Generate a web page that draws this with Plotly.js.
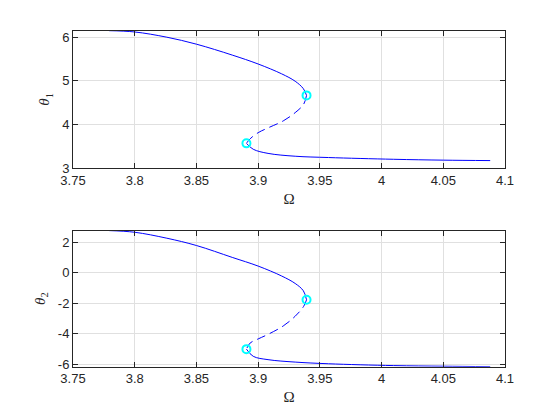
<!DOCTYPE html>
<html><head><meta charset="utf-8">
<script src="https://cdn.plot.ly/plotly-3.0.1.min.js"></script>
<style>html,body{margin:0;padding:0;background:#fff}#chart{width:560px;height:420px}</style>
</head><body><div id="chart"></div>
<script>
// Stable upper branch
const omegaUpper  = [3.7792, 3.8, 3.826, 3.85, 3.879, 3.9, 3.919, 3.93, 3.9366, 3.9392];
const theta1Upper = [6.15, 6.12, 6.0, 5.84, 5.59, 5.385, 5.16, 4.99, 4.82, 4.665];
const theta2Upper = [2.76, 2.65, 2.26, 1.78, 1.0, 0.43, -0.22, -0.71, -1.19, -1.78];
// Unstable middle branch (dashed)
const omegaMid  = [3.9392, 3.9368, 3.930, 3.9203, 3.908, 3.9, 3.8935, 3.8905];
const theta1Mid = [4.665, 4.46, 4.27, 4.08, 3.92, 3.81, 3.67, 3.565];
const theta2Mid = [-1.78, -2.22, -2.86, -3.50, -4.05, -4.35, -4.62, -5.02];
// Stable lower branch
const omegaLower  = [3.8905, 3.896, 3.908, 3.930, 3.957, 4.0095, 4.05, 4.088];
const theta1Lower = [3.565, 3.43, 3.335, 3.27, 3.24, 3.20, 3.18, 3.17];
const theta2Lower = [-5.02, -5.49, -5.71, -5.87, -5.98, -6.10, -6.14, -6.17];
// Fold (limit) points
const omegaFold  = [3.9392, 3.8905];
const theta1Fold = [4.665, 3.565];
const theta2Fold = [-1.78, -5.02];
// Ticks
const xTicks = [3.75, 3.8, 3.85, 3.9, 3.95, 4, 4.05, 4.1];
const xTickText = ["3.75", "3.8", "3.85", "3.9", "3.95", "4", "4.05", "4.1"];
const y1Ticks = [3, 4, 5, 6];
const y1TickText = ["3", "4", "5", "6"];
const y2Ticks = [-6, -4, -2, 0, 2];
const y2TickText = ["-6", "-4", "-2", "0", "2"];

const blue = '#0000ff';
const cyan = '#00ffff';
function lineTrace(x, y, ax, dash) {
  return {x: x, y: y, xaxis: ax[0], yaxis: ax[1], mode: 'lines', type: 'scatter',
    line: {color: blue, width: 1, dash: dash, shape: 'spline', smoothing: 1}, hoverinfo: 'skip'};
}
function foldTrace(x, y, ax) {
  return {x: x, y: y, xaxis: ax[0], yaxis: ax[1], mode: 'markers', type: 'scatter',
    marker: {symbol: 'circle-open', size: 8, color: cyan, line: {color: cyan, width: 2}}};
}
const a1 = ['x', 'y'], a2 = ['x2', 'y2'];
const data = [
  lineTrace(omegaUpper, theta1Upper, a1, 'solid'),
  lineTrace(omegaMid, theta1Mid, a1, '9px,5px'),
  lineTrace(omegaLower, theta1Lower, a1, 'solid'),
  foldTrace(omegaFold, theta1Fold, a1),
  lineTrace(omegaUpper, theta2Upper, a2, 'solid'),
  lineTrace(omegaMid, theta2Mid, a2, '9px,5px'),
  lineTrace(omegaLower, theta2Lower, a2, 'solid'),
  foldTrace(omegaFold, theta2Fold, a2)
];
const axCommon = {
  showline: true, mirror: 'ticks', linecolor: '#262626', linewidth: 1,
  ticks: 'inside', ticklen: 5, tickcolor: '#262626', tickwidth: 1,
  showgrid: true, gridcolor: '#e0e0e0', gridwidth: 1, zeroline: false,
  tickfont: {family: 'Liberation Sans, Arial, sans-serif', size: 13, color: '#262626'},
  tickmode: 'array'
};
const serif = 'Liberation Serif, Times New Roman, serif';
const xTitle = {text: 'Ω', font: {family: serif, size: 15, color: '#262626'}, standoff: 6};
const layout = {
  width: 560, height: 420,
  margin: {l: 0, r: 0, t: 0, b: 0},
  paper_bgcolor: '#ffffff', plot_bgcolor: '#ffffff',
  showlegend: false,
  xaxis: Object.assign({}, axCommon, {domain: [0.1304, 0.9018], anchor: 'y', range: [3.75, 4.1],
    tickvals: xTicks, ticktext: xTickText, title: xTitle}),
  yaxis: Object.assign({}, axCommon, {domain: [0.600, 0.927], anchor: 'x', range: [3, 6.15],
    tickvals: y1Ticks, ticktext: y1TickText,
    title: {text: '<i>θ</i><sub>1</sub>', font: {family: serif, size: 15, color: '#262626'}, standoff: 8}}),
  xaxis2: Object.assign({}, axCommon, {domain: [0.1304, 0.9018], anchor: 'y2', range: [3.75, 4.1],
    tickvals: xTicks, ticktext: xTickText, title: xTitle}),
  yaxis2: Object.assign({}, axCommon, {domain: [0.127, 0.451], anchor: 'x2', range: [-6.17, 2.76],
    tickvals: y2Ticks, ticktext: y2TickText,
    title: {text: '<i>θ</i><sub>2</sub>', font: {family: serif, size: 15, color: '#262626'}, standoff: 8}})
};
Plotly.newPlot('chart', data, layout, {staticPlot: true, displayModeBar: false});
</script></body></html>
